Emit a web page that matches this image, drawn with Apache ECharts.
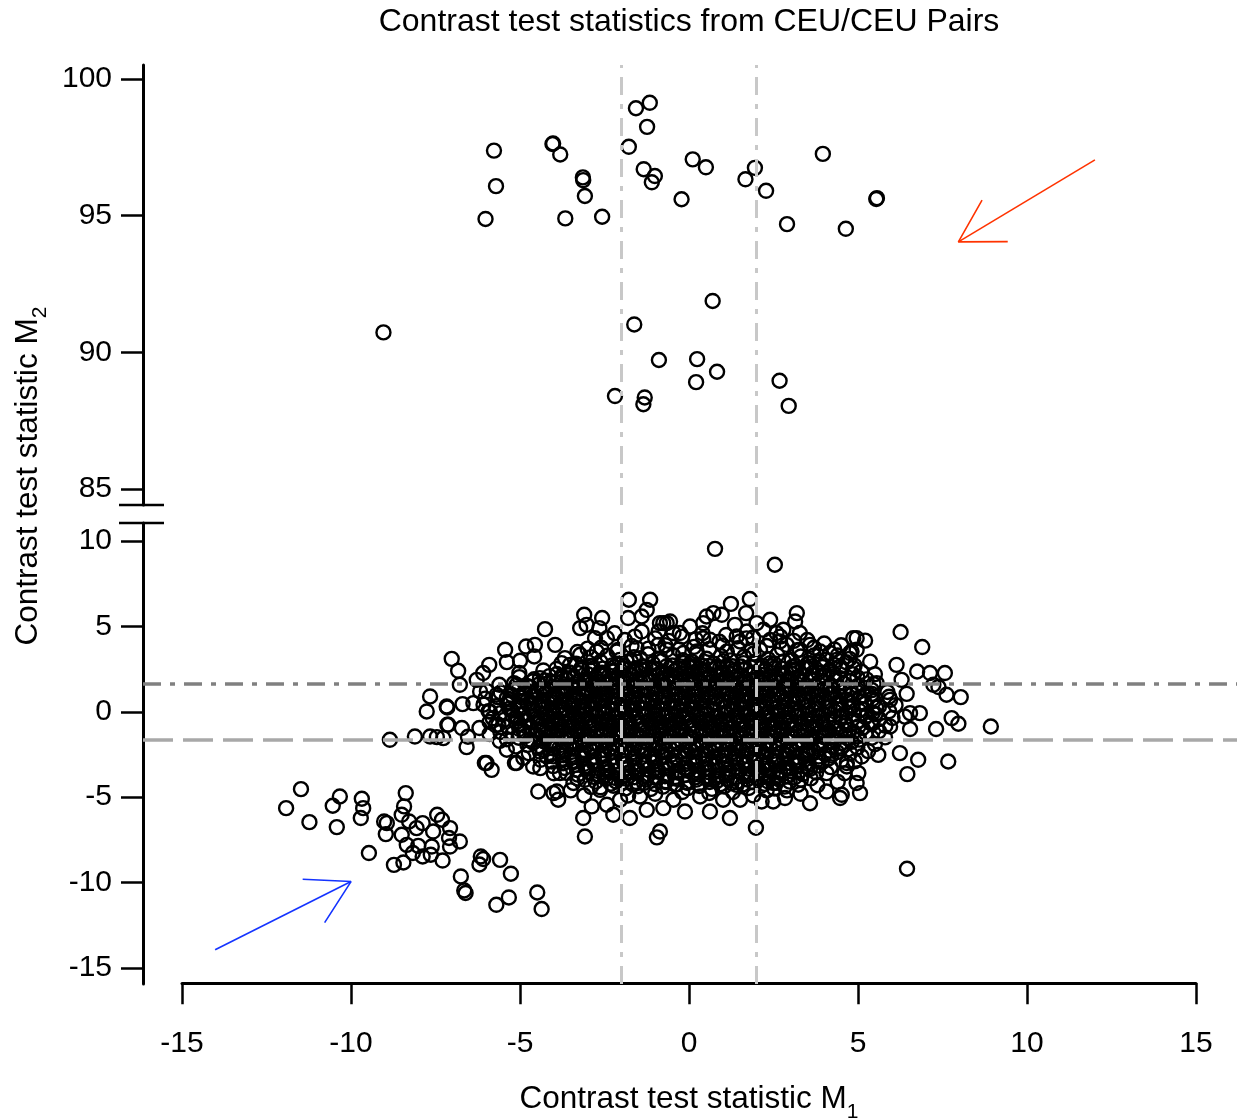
<!DOCTYPE html>
<html><head><meta charset="utf-8">
<script src="https://cdn.jsdelivr.net/npm/echarts@6.0.0/dist/echarts.min.js"></script>
<style>html,body{margin:0;padding:0;background:#fff}#c{width:1242px;height:1120px}</style>
</head><body><div id="c"></div>
<script>
// ---------------- DATA ----------------
const titleText = 'Contrast test statistics from CEU/CEU Pairs';
const xName = ['Contrast test statistic M', '1'];
const yName = ['Contrast test statistic M', '2'];
const upperTicks = [85, 90, 95, 100];
const lowerTicks = [-15, -10, -5, 0, 5, 10];
const xTickStep = 5;
const xRange = [-15, 15];
const refM1 = [-2, 2];          // vertical reference lines
const refM2Upper = 1.645;       // dash-dot horizontal
const refM2Lower = -1.645;      // dashed horizontal

// points with M2 between 85 and 100
const upperPairs = [
 [-1.57,98.93],[-1.16,99.13],[-1.24,98.25],[-1.78,97.52],[3.96,97.26],[0.11,97.06],[0.50,96.77],
 [1.95,96.75],[-1.34,96.70],[-1.01,96.45],[-1.10,96.22],[1.67,96.33],[2.28,95.91],[-0.22,95.60],
 [5.54,95.61],[5.56,95.64],[2.90,94.69],[4.64,94.52],[0.70,91.88],[-1.62,91.02],[-0.89,89.72],[0.24,89.75],
 [0.83,89.29],[0.21,88.91],[2.68,88.96],[-1.31,88.35],[-1.35,88.10],[2.95,88.04],[-2.19,88.40],
 [-5.77,97.38],[-5.71,96.08],[-6.02,94.88],[-4.04,97.62],[-4.02,97.64],[-3.81,97.24],[-3.14,96.40],
 [-3.13,96.30],[-3.08,95.72],[-3.66,94.90],[-2.57,94.96],[-9.04,90.73]
];

// isolated points in the lower panel
const outlierPairs = [
 [0.77,9.54],[2.54,8.61],[6.45,-9.19],[-0.95,-7.35],[-0.86,-7.01],[-3.08,-7.30],[-3.13,-6.22]
];

// lower-left group
const leftGroupPairs = [
 [-11.48,-4.53],[-11.92,-5.64],[-11.23,-6.46],[-10.33,-4.96],[-10.54,-5.50],[-10.42,-6.75],
 [-9.68,-5.09],[-9.64,-5.64],[-9.71,-6.22],[-9.47,-8.27],[-8.38,-4.76],[-8.43,-5.54],[-8.50,-6.03],
 [-9.02,-6.42],[-8.94,-6.52],[-8.97,-7.16],[-8.28,-6.42],[-8.06,-6.81],[-7.88,-6.52],[-8.50,-7.20],
 [-8.35,-7.79],[-8.01,-7.85],[-7.61,-7.89],[-7.57,-7.01],[-7.45,-6.03],[-7.31,-6.32],[-7.07,-6.81],
 [-7.10,-7.39],[-6.78,-7.59],[-7.07,-7.89],[-8.17,-8.27],[-7.88,-8.47],[-7.64,-8.37],[-7.29,-8.71],
 [-8.73,-8.96],[-8.45,-8.82],[-6.16,-8.47],[-6.09,-8.62],[-6.20,-8.94],[-5.59,-8.67],[-5.27,-9.48],
 [-6.75,-9.64],[-6.65,-10.46],[-6.61,-10.61],[-5.33,-10.87],[-5.70,-11.30],[-4.49,-10.58],[-4.36,-11.55]
];

// visible points on the border of the main cluster
const clusterEdgePairs = [
 [-7.02,3.10],[-6.83,2.40],[-6.78,1.58],[-7.15,0.25],[-6.70,0.45],[-7.15,-0.76],[-6.72,-0.95],[-6.28,1.87],
 [-6.09,2.27],[-5.91,2.75],[-6.18,1.19],[-6.38,0.51],[-6.20,-0.95],[-5.44,3.63],[-5.39,2.91],[-5.00,2.99],
 [-5.02,2.27],[-4.82,3.82],[-4.56,3.92],[-4.58,3.24],[-4.26,4.84],[-3.96,3.92],[-4.41,1.97],[-3.67,3.14],
 [-3.77,2.85],[-3.77,2.07],[-3.10,5.68],[-3.03,5.09],[-3.22,4.90],[-2.57,5.49],[-2.65,4.90],[-2.78,4.31],
 [-2.43,4.31],[-2.73,3.53],[-3.22,3.34],[-3.52,2.75],[-1.78,6.56],[-1.80,5.49],[-1.15,6.56],[-1.25,5.97],
 [-1.40,5.58],[-1.40,4.70],[-0.86,5.19],[-0.66,5.19],[-0.91,3.92],[-1.55,3.73],[-2.14,3.53],[-5.10,1.58],
 [-5.39,0.80],[-5.69,1.00],[-5.89,0.02],[-5.64,-0.76],[-5.10,-0.37],[-4.80,0.60],[-4.41,-0.37],[-4.11,0.80],
 [-3.82,0.02],[-3.42,1.00],[-3.22,-0.18],[-2.93,1.58],[-2.63,0.60],[-2.43,-0.57],[-2.24,2.36],[-1.84,2.94],
 [-1.45,3.14],[-1.06,2.56],
 [1.80,6.60],[1.24,6.32],[0.97,5.68],[0.72,5.78],[0.52,5.58],[0.42,5.19],[0.03,4.99],[-0.56,5.29],
 [-0.76,5.19],[-0.27,4.61],[-0.46,4.61],[1.69,5.78],[1.36,5.09],[1.71,4.70],[2.00,5.19],[2.40,5.39],
 [3.19,5.78],[3.14,5.29],[2.79,4.80],[2.59,4.61],[2.20,4.80],[3.28,4.61],[3.58,3.92],[2.89,3.92],
 [2.69,4.12],[3.88,3.53],[4.17,3.44],[4.86,4.31],[4.96,3.63],[4.76,3.44],[1.51,4.12],[1.41,4.41],
 [0.42,4.31],[0.62,4.22],[1.12,3.53],[0.23,3.53],[-0.17,3.44],[-0.66,3.63],[2.10,3.63],[3.28,3.63],
 [2.40,2.85],[3.58,2.85],[4.47,2.65],[4.86,2.56],[3.09,2.46],[1.12,2.65],[0.13,2.65],
 [6.26,4.67],[6.90,3.79],[4.96,4.31],[5.21,4.17],[4.81,3.53],[5.36,2.94],[6.14,2.75],[6.75,2.36],
 [7.13,2.27],[7.57,2.27],[7.23,1.58],[7.38,1.45],[7.62,1.00],[8.04,0.86],[6.44,1.05],[6.29,1.87],
 [6.54,-0.08],[6.83,-0.08],[6.39,-0.28],[7.77,-0.37],[7.97,-0.70],[7.31,-1.01],[6.54,-1.01],[8.93,-0.86],
 [6.24,-2.42],[6.78,-2.81],[7.67,-2.91],[6.46,-3.65],[5.60,-2.52],[5.11,-2.62],[5.01,-3.59],[4.67,-3.20],
 [5.06,-4.76],[4.52,-4.86],[5.95,-0.86],[5.95,0.70],[5.55,1.68],[4.37,3.04],[4.27,2.07],
 [-6.58,-2.07],[-5.99,-3.00],[-5.84,-3.40],[-5.10,-3.00],[-4.61,-3.20],[-4.46,-4.67],[-3.91,-4.67],
 [-3.87,-5.15],[-2.88,-5.54],[-2.43,-5.44],[-2.24,-6.03],[-1.75,-6.22],[-1.25,-5.74],[-0.76,-5.64],
 [-0.12,-5.84],[0.62,-5.84],[1.21,-6.22],[1.98,-6.79],[2.15,-5.25],[2.49,-5.25],[2.84,-5.05],[3.23,-4.27],
 [3.58,-5.35],[4.07,-4.67],[4.47,-5.05],[4.07,-3.59],[4.67,-3.00],[4.96,-4.17],[3.48,-2.42],[2.49,-4.17],
 [1.51,-5.15],[1.01,-5.15],[0.33,-4.96],[-0.46,-5.15],[-1.45,-4.96],[-2.04,-5.15],[-2.63,-4.57],
 [-3.42,-4.17],[-3.82,-3.59],[-4.21,-2.62],[-5.39,-2.22],
 [-7.66,0.90],[-7.76,0.02],[-7.17,0.31],[-8.85,-1.64],[-8.11,-1.45],[-7.66,-1.45],[-7.46,-1.48],
 [-7.27,-1.54],[-7.12,-0.76],[-6.04,-3.00],[-5.15,-3.00],[-4.01,-4.76],[-6.54,-1.46],
 [3.7,3.3],[4.05,3.05],[4.4,3.3],[4.75,3.1],[3.95,2.62],[4.3,2.75],[4.65,2.9],[4.9,2.7],[5.1,2.35],
 [4.85,2.2],[5.25,1.9],[5.5,2.2],[-3.3,3.5],[-2.9,3.2],[-3.0,3.7],
 [-2.2,4.6],[-1.6,4.4],[-0.9,4.7],[-0.2,4.4],[0.4,4.6],[1.1,4.5],[1.9,4.35],[2.7,4.4],[3.5,4.2],[4.0,4.0],[4.5,3.9],
 [-3.5,-4.6],[-3.1,-4.9],[-2.9,-4.4],[-1.8,-4.9],[-1.0,-4.8],[-0.2,-4.7],[0.6,-4.75],[1.3,-4.7],[1.9,-4.9],
 [2.3,-4.6],[2.9,-4.6],[3.3,-4.8],[3.8,-4.3],[3.6,-3.9],[4.4,-4.1],[-3.3,-3.9],[-4.0,-3.6],[-4.4,-3.3],
 [-4.9,-2.7],[4.6,-3.6],[4.9,-2.9],[5.3,-2.3],[5.5,-1.9],[5.8,-1.5],[-5.6,-1.7],[-5.9,-1.3],[-5.9,-0.6]
];

// dense core of the main cluster, first layer (estimated, overlapping marks)
const clusterCorePairs = [
 [-2.6,3.75],[-2.1,3.62],[-1.7,3.85],[-1.2,3.7],[-0.7,3.9],[-0.3,3.65],[0.15,3.8],[0.6,3.68],[1.0,3.88],[1.45,3.72],[1.85,3.6],[2.3,3.85],[2.75,3.7],[3.2,3.6],[3.7,3.75],[4.3,3.65],
 [-1.9,4.2],[-1.0,4.3],[-0.6,4.15],[0.2,4.25],[0.9,4.1],[1.7,4.3],[2.4,4.2],[3.1,4.15],
 [-2.42,3.28],[-2.05,3.04],[-1.63,3.19],[-1.21,3.37],[-0.88,3.08],[-0.47,3.31],[-0.18,3.02],[0.23,3.36],[0.52,3.11],[0.94,3.27],[1.22,3.01],[1.63,3.22],[1.91,3.41],[2.34,3.09],[2.61,3.33],[3.04,3.02],[3.31,3.24],
 [-3.34,2.81],[-2.93,2.68],[-2.62,2.93],[-2.27,2.72],[-1.98,2.84],[-1.72,2.95],[-1.38,2.66],[-1.07,2.83],[-0.81,2.97],[-0.49,2.71],[-0.17,2.86],[0.08,2.94],[0.41,2.69],[0.73,2.82],[1.02,2.96],[1.29,2.67],[1.61,2.85],[1.93,2.92],[2.18,2.70],[2.52,2.83],[2.81,2.95],[3.14,2.68],[3.52,2.84],[3.87,2.93],
 [-4.31,2.42],[-3.92,2.51],[-3.54,2.31],[-3.17,2.44],[-2.84,2.53],[-2.57,2.29],[-2.23,2.41],[-1.96,2.55],[-1.62,2.33],[-1.37,2.46],[-1.04,2.52],[-0.76,2.28],[-0.43,2.39],[-0.14,2.54],[0.17,2.32],[0.46,2.43],[0.78,2.56],[1.03,2.27],[1.36,2.41],[1.67,2.52],[1.94,2.31],[2.27,2.44],[2.53,2.55],[2.88,2.30],[3.16,2.42],[3.47,2.53],[3.83,2.29],[4.16,2.45],[4.52,2.51],
 [-5.02,2.03],[-4.58,1.91],[-4.13,2.09],[-3.76,1.94],[-3.41,2.07],[-3.08,1.88],[-2.76,2.02],[-2.49,2.13],[-2.16,1.92],[-1.88,2.06],[-1.57,1.87],[-1.29,2.01],[-0.98,2.12],[-0.67,1.93],[-0.41,2.05],[-0.09,1.89],[0.18,2.08],[0.49,1.95],[0.81,2.11],[1.07,1.86],[1.39,2.03],[1.68,1.91],[2.02,2.09],[2.27,1.94],[2.58,2.06],[2.91,1.88],[3.23,2.04],[3.58,1.92],[4.02,2.08],[4.47,1.96],[4.98,2.02],
 [-5.61,1.58],[-5.18,1.67],[-4.79,1.52],[-4.42,1.63],[-4.04,1.71],[-3.72,1.49],[-3.39,1.62],[-3.11,1.74],[-2.79,1.55],[-2.52,1.66],[-2.21,1.51],[-1.93,1.69],[-1.61,1.57],[-1.33,1.72],[-1.02,1.48],[-0.72,1.61],[-0.44,1.73],[-0.13,1.54],[0.16,1.67],[0.47,1.50],[0.76,1.64],[1.08,1.75],[1.37,1.53],[1.66,1.68],[1.97,1.49],[2.26,1.62],[2.57,1.74],[2.86,1.56],[3.17,1.66],[3.48,1.51],[3.82,1.69],[4.19,1.57],[4.58,1.65],[4.99,1.52],[5.46,1.63],
 [-5.98,1.21],[-5.57,1.13],[-5.21,1.27],[-4.84,1.08],[-4.51,1.22],[-4.19,1.31],[-3.88,1.12],[-3.58,1.25],[-3.27,1.06],[-2.98,1.19],[-2.68,1.33],[-2.41,1.11],[-2.12,1.24],[-1.81,1.07],[-1.52,1.21],[-1.22,1.34],[-0.93,1.09],[-0.61,1.23],[-0.32,1.05],[-0.03,1.18],[0.28,1.32],[0.57,1.10],[0.88,1.26],[1.17,1.04],[1.48,1.19],[1.79,1.31],[2.08,1.13],[2.39,1.24],[2.68,1.06],[2.99,1.22],[3.31,1.35],[3.62,1.11],[3.93,1.26],[4.24,1.08],[4.61,1.21],[4.98,1.14],[5.41,1.27],[5.87,1.16],
 [-6.03,0.77],[-5.66,0.86],[-5.29,0.71],[-4.95,0.84],[-4.63,0.92],[-4.32,0.69],[-4.01,0.81],[-3.73,0.94],[-3.42,0.73],[-3.13,0.87],[-2.84,0.68],[-2.55,0.82],[-2.26,0.95],[-1.97,0.72],[-1.68,0.85],[-1.38,0.67],[-1.09,0.83],[-0.78,0.93],[-0.49,0.71],[-0.21,0.84],[0.09,0.66],[0.38,0.81],[0.67,0.94],[0.96,0.73],[1.27,0.86],[1.56,0.69],[1.86,0.82],[2.14,0.95],[2.45,0.72],[2.76,0.85],[3.05,0.68],[3.37,0.83],[3.68,0.91],[3.99,0.74],[4.33,0.87],[4.67,0.71],[5.04,0.84],[5.43,0.76],[5.92,0.88],
 [-6.08,0.42],[-5.72,0.33],[-5.38,0.47],[-5.06,0.29],[-4.77,0.44],[-4.47,0.36],[-4.16,0.51],[-3.87,0.31],[-3.58,0.45],[-3.28,0.27],[-2.99,0.41],[-2.71,0.53],[-2.41,0.32],[-2.12,0.46],[-1.83,0.28],[-1.53,0.43],[-1.24,0.52],[-0.94,0.34],[-0.64,0.47],[-0.36,0.26],[-0.06,0.41],[0.23,0.54],[0.52,0.33],[0.83,0.46],[1.12,0.29],[1.41,0.44],[1.71,0.55],[2.01,0.31],[2.29,0.45],[2.61,0.27],[2.91,0.42],[3.22,0.53],[3.52,0.35],[3.83,0.48],[4.16,0.28],[4.49,0.43],[4.84,0.34],[5.21,0.47],[5.62,0.31],[6.11,0.39],
 [-5.93,0.03],[-5.58,-0.08],[-5.24,0.07],[-4.91,-0.11],[-4.61,0.04],[-4.31,0.13],[-4.02,-0.06],[-3.72,0.09],[-3.43,-0.13],[-3.14,0.02],[-2.85,0.14],[-2.56,-0.07],[-2.27,0.06],[-1.98,-0.12],[-1.69,0.03],[-1.39,0.15],[-1.09,-0.05],[-0.81,0.08],[-0.51,-0.14],[-0.22,0.01],[0.07,0.12],[0.37,-0.09],[0.66,0.05],[0.96,-0.13],[1.26,0.04],[1.55,0.14],[1.84,-0.06],[2.14,0.07],[2.44,-0.11],[2.73,0.02],[3.04,0.13],[3.35,-0.08],[3.66,0.06],[3.98,-0.12],[4.31,0.03],[4.66,-0.05],[5.03,0.08],[5.44,-0.07],[5.92,0.04],
 [-5.81,-0.38],[-5.47,-0.47],[-5.13,-0.33],[-4.81,-0.51],[-4.49,-0.36],[-4.18,-0.27],[-3.88,-0.46],[-3.59,-0.31],[-3.29,-0.53],[-2.99,-0.38],[-2.71,-0.26],[-2.42,-0.48],[-2.13,-0.34],[-1.84,-0.52],[-1.54,-0.37],[-1.26,-0.25],[-0.96,-0.45],[-0.67,-0.32],[-0.37,-0.54],[-0.08,-0.39],[0.22,-0.27],[0.51,-0.49],[0.81,-0.35],[1.11,-0.53],[1.41,-0.36],[1.69,-0.26],[1.99,-0.47],[2.29,-0.33],[2.59,-0.51],[2.88,-0.38],[3.19,-0.28],[3.51,-0.46],[3.82,-0.31],[4.14,-0.52],[4.48,-0.37],[4.83,-0.44],[5.22,-0.31],[5.63,-0.43],[6.02,-0.36],
 [-5.72,-0.79],[-5.36,-0.88],[-5.02,-0.73],[-4.68,-0.91],[-4.36,-0.76],[-4.04,-0.67],[-3.74,-0.86],[-3.44,-0.71],[-3.14,-0.93],[-2.86,-0.78],[-2.57,-0.66],[-2.27,-0.87],[-1.98,-0.74],[-1.69,-0.92],[-1.39,-0.77],[-1.11,-0.65],[-0.81,-0.85],[-0.52,-0.72],[-0.23,-0.94],[0.07,-0.79],[0.36,-0.67],[0.66,-0.88],[0.96,-0.73],[1.26,-0.91],[1.55,-0.76],[1.84,-0.66],[2.14,-0.86],[2.44,-0.72],[2.74,-0.93],[3.04,-0.77],[3.34,-0.68],[3.66,-0.87],[3.98,-0.73],[4.31,-0.91],[4.66,-0.78],[5.02,-0.84],[5.41,-0.71],[5.81,-0.82],
 [-5.58,-1.18],[-5.22,-1.27],[-4.89,-1.12],[-4.56,-1.31],[-4.24,-1.16],[-3.93,-1.07],[-3.62,-1.26],[-3.32,-1.11],[-3.02,-1.33],[-2.73,-1.18],[-2.43,-1.06],[-2.14,-1.28],[-1.84,-1.13],[-1.55,-1.32],[-1.26,-1.17],[-0.96,-1.05],[-0.67,-1.25],[-0.37,-1.12],[-0.08,-1.34],[0.21,-1.19],[0.51,-1.07],[0.81,-1.29],[1.11,-1.14],[1.41,-1.31],[1.71,-1.16],[2.01,-1.06],[2.31,-1.27],[2.61,-1.13],[2.91,-1.33],[3.21,-1.17],[3.52,-1.08],[3.83,-1.26],[4.15,-1.12],[4.49,-1.29],[4.86,-1.17],[5.23,-1.24],[5.62,-1.13],
 [-5.39,-1.61],[-5.04,-1.52],[-4.71,-1.68],[-4.39,-1.55],[-4.08,-1.72],[-3.78,-1.58],[-3.48,-1.49],[-3.18,-1.66],[-2.89,-1.53],[-2.59,-1.74],[-2.29,-1.59],[-2.01,-1.47],[-1.71,-1.67],[-1.41,-1.54],[-1.12,-1.73],[-0.82,-1.57],[-0.53,-1.46],[-0.24,-1.68],[0.06,-1.55],[0.36,-1.74],[0.66,-1.59],[0.95,-1.48],[1.25,-1.69],[1.55,-1.53],[1.85,-1.72],[2.15,-1.58],[2.45,-1.47],[2.75,-1.66],[3.05,-1.54],[3.36,-1.73],[3.67,-1.57],[3.99,-1.49],[4.32,-1.67],[4.68,-1.55],[5.04,-1.63],[5.41,-1.52],
 [-5.12,-2.03],[-4.78,-1.94],[-4.46,-2.11],[-4.14,-1.96],[-3.84,-2.13],[-3.54,-1.98],[-3.24,-1.89],[-2.95,-2.08],[-2.66,-1.95],[-2.36,-2.14],[-2.07,-1.99],[-1.77,-1.88],[-1.48,-2.09],[-1.18,-1.93],[-0.89,-2.12],[-0.59,-1.97],[-0.31,-1.87],[-0.01,-2.07],[0.29,-1.94],[0.58,-2.13],[0.88,-1.98],[1.18,-1.89],[1.48,-2.08],[1.78,-1.95],[2.08,-2.14],[2.38,-1.99],[2.67,-1.88],[2.97,-2.06],[3.28,-1.93],[3.59,-2.12],[3.91,-1.97],[4.24,-2.05],[4.61,-1.92],[4.98,-2.09],
 [-4.74,-2.42],[-4.41,-2.33],[-4.09,-2.49],[-3.77,-2.36],[-3.47,-2.53],[-3.17,-2.38],[-2.88,-2.28],[-2.58,-2.47],[-2.29,-2.34],[-1.99,-2.52],[-1.69,-2.37],[-1.41,-2.27],[-1.11,-2.48],[-0.82,-2.33],[-0.52,-2.51],[-0.23,-2.36],[0.07,-2.26],[0.37,-2.46],[0.66,-2.32],[0.96,-2.53],[1.26,-2.38],[1.56,-2.28],[1.86,-2.47],[2.16,-2.34],[2.46,-2.52],[2.76,-2.37],[3.06,-2.27],[3.37,-2.45],[3.69,-2.31],[4.02,-2.48],[4.38,-2.36],[4.77,-2.43],
 [-4.39,-2.81],[-4.06,-2.91],[-3.74,-2.74],[-3.43,-2.88],[-3.13,-2.72],[-2.84,-2.93],[-2.54,-2.77],[-2.24,-2.67],[-1.95,-2.87],[-1.65,-2.73],[-1.36,-2.92],[-1.06,-2.76],[-0.77,-2.66],[-0.47,-2.86],[-0.18,-2.72],[0.12,-2.91],[0.41,-2.77],[0.71,-2.67],[1.01,-2.88],[1.31,-2.73],[1.61,-2.92],[1.91,-2.76],[2.21,-2.66],[2.51,-2.86],[2.81,-2.71],[3.12,-2.91],[3.44,-2.77],[3.77,-2.86],[4.13,-2.73],[4.51,-2.84],
 [-4.02,-3.18],[-3.68,-3.29],[-3.37,-3.12],[-3.06,-3.27],[-2.77,-3.11],[-2.47,-3.31],[-2.18,-3.16],[-1.88,-3.06],[-1.59,-3.26],[-1.29,-3.12],[-0.99,-3.32],[-0.71,-3.17],[-0.41,-3.07],[-0.12,-3.27],[0.18,-3.13],[0.47,-3.31],[0.77,-3.16],[1.07,-3.06],[1.37,-3.26],[1.67,-3.11],[1.97,-3.31],[2.27,-3.16],[2.57,-3.08],[2.88,-3.27],[3.19,-3.13],[3.51,-3.29],[3.84,-3.15],[4.19,-3.24],
 [-3.62,-3.58],[-3.29,-3.68],[-2.98,-3.52],[-2.68,-3.67],[-2.38,-3.51],[-2.09,-3.71],[-1.79,-3.56],[-1.49,-3.46],[-1.19,-3.66],[-0.91,-3.52],[-0.61,-3.72],[-0.32,-3.57],[-0.02,-3.47],[0.28,-3.67],[0.57,-3.53],[0.87,-3.71],[1.17,-3.56],[1.47,-3.47],[1.77,-3.66],[2.07,-3.52],[2.38,-3.71],[2.69,-3.57],[3.01,-3.48],[3.36,-3.65],[3.76,-3.55],
 [-3.08,-3.98],[-2.76,-4.09],[-2.46,-3.93],[-2.16,-4.08],[-1.86,-3.91],[-1.57,-4.11],[-1.27,-3.96],[-0.97,-3.87],[-0.68,-4.07],[-0.38,-3.92],[-0.08,-4.12],[0.22,-3.97],[0.52,-3.88],[0.82,-4.06],[1.12,-3.93],[1.42,-4.11],[1.72,-3.96],[2.02,-3.88],[2.33,-4.07],[2.65,-3.94],[2.98,-4.09],[3.31,-3.97],
 [-2.62,-4.42],[-2.24,-4.33],[-1.88,-4.49],[-1.51,-4.36],[-1.13,-4.52],[-0.77,-4.38],[-0.41,-4.27],[-0.04,-4.47],[0.31,-4.34],[0.68,-4.51],[1.04,-4.37],[1.41,-4.28],[1.77,-4.46],[2.14,-4.33],[2.52,-4.49],[2.83,-4.38]
];

// dense core, second layer between the rows of the first
const clusterCore2Pairs = [
 [-3.18,2.58],[-2.86,2.66],[-2.55,2.53],[-2.21,2.62],[-1.92,2.69],[-1.58,2.55],[-1.29,2.64],[-0.95,2.51],[-0.66,2.67],[-0.33,2.57],[-0.02,2.63],[0.31,2.54],[0.59,2.68],[0.92,2.59],[1.21,2.52],[1.53,2.65],[1.82,2.61],[2.14,2.56],[2.43,2.67],[2.74,2.53],[3.05,2.62],[3.38,2.58],[3.62,2.66],
 [-3.91,2.21],[-3.58,2.14],[-3.29,2.27],[-2.98,2.18],[-2.67,2.25],[-2.36,2.12],[-2.07,2.23],[-1.76,2.16],[-1.47,2.28],[-1.16,2.13],[-0.87,2.22],[-0.56,2.17],[-0.26,2.26],[0.03,2.11],[0.34,2.24],[0.63,2.15],[0.94,2.27],[1.23,2.19],[1.54,2.12],[1.83,2.25],[2.14,2.16],[2.43,2.28],[2.74,2.14],[3.03,2.23],[3.34,2.17],[3.66,2.26],[3.98,2.13],[4.29,2.22],
 [-4.62,1.78],[-4.27,1.84],[-3.94,1.73],[-3.61,1.86],[-3.29,1.76],[-2.96,1.82],[-2.65,1.71],[-2.34,1.87],[-2.03,1.77],[-1.74,1.83],[-1.43,1.72],[-1.13,1.85],[-0.82,1.79],[-0.53,1.74],[-0.24,1.86],[0.04,1.76],[0.33,1.82],[0.64,1.71],[0.94,1.84],[1.22,1.78],[1.53,1.73],[1.83,1.87],[2.12,1.75],[2.42,1.81],[2.72,1.72],[3.03,1.85],[3.34,1.77],[3.67,1.83],[3.98,1.74],[4.31,1.86],[4.76,1.79],
 [-5.03,1.38],[-4.68,1.44],[-4.36,1.33],[-4.05,1.46],[-3.73,1.36],[-3.43,1.42],[-3.12,1.31],[-2.83,1.47],[-2.53,1.37],[-2.24,1.43],[-1.93,1.32],[-1.64,1.45],[-1.34,1.39],[-1.04,1.34],[-0.75,1.46],[-0.45,1.36],[-0.16,1.42],[0.14,1.31],[0.43,1.44],[0.73,1.38],[1.03,1.33],[1.32,1.47],[1.62,1.35],[1.92,1.41],[2.22,1.32],[2.53,1.45],[2.83,1.37],[3.14,1.43],[3.45,1.34],[3.77,1.46],[4.09,1.36],[4.43,1.42],[4.78,1.33],[5.17,1.41],
 [-5.24,0.98],[-4.89,1.04],[-4.57,0.93],[-4.26,1.06],[-3.95,0.96],[-3.65,1.02],[-3.34,0.91],[-3.05,1.07],[-2.76,0.97],[-2.46,1.03],[-2.17,0.92],[-1.88,1.05],[-1.57,0.99],[-1.28,0.94],[-0.98,1.06],[-0.69,0.96],[-0.39,1.02],[-0.09,0.91],[0.21,1.04],[0.51,0.98],[0.81,0.93],[1.11,1.07],[1.41,0.95],[1.71,1.01],[2.01,0.92],[2.31,1.05],[2.61,0.97],[2.91,1.03],[3.22,0.94],[3.53,1.06],[3.84,0.96],[4.16,1.02],[4.48,0.93],[4.82,1.01],[5.18,0.95],[5.41,1.05],
 [-5.33,0.58],[-4.99,0.64],[-4.67,0.53],[-4.36,0.66],[-4.06,0.56],[-3.76,0.62],[-3.46,0.51],[-3.16,0.67],[-2.87,0.57],[-2.57,0.63],[-2.27,0.52],[-1.97,0.65],[-1.67,0.59],[-1.38,0.54],[-1.08,0.66],[-0.79,0.56],[-0.49,0.62],[-0.19,0.51],[0.11,0.64],[0.41,0.58],[0.71,0.53],[1.01,0.67],[1.31,0.55],[1.61,0.61],[1.91,0.52],[2.21,0.65],[2.51,0.57],[2.81,0.63],[3.12,0.54],[3.43,0.66],[3.74,0.56],[4.06,0.62],[4.39,0.53],[4.73,0.61],[5.08,0.55],[5.47,0.63],
 [-5.31,0.18],[-4.97,0.24],[-4.65,0.13],[-4.34,0.26],[-4.04,0.16],[-3.74,0.22],[-3.44,0.11],[-3.14,0.27],[-2.84,0.17],[-2.55,0.23],[-2.25,0.12],[-1.95,0.25],[-1.65,0.19],[-1.36,0.14],[-1.06,0.26],[-0.76,0.16],[-0.46,0.22],[-0.16,0.11],[0.14,0.24],[0.44,0.18],[0.74,0.13],[1.04,0.27],[1.34,0.15],[1.64,0.21],[1.94,0.12],[2.24,0.25],[2.54,0.17],[2.84,0.23],[3.15,0.14],[3.46,0.26],[3.77,0.16],[4.09,0.22],[4.42,0.13],[4.76,0.21],[5.12,0.15],[5.54,0.23],
 [-5.22,-0.21],[-4.88,-0.14],[-4.57,-0.26],[-4.26,-0.16],[-3.96,-0.23],[-3.66,-0.12],[-3.36,-0.25],[-3.06,-0.17],[-2.77,-0.22],[-2.47,-0.11],[-2.17,-0.24],[-1.87,-0.18],[-1.57,-0.27],[-1.28,-0.13],[-0.98,-0.22],[-0.68,-0.16],[-0.38,-0.26],[-0.08,-0.14],[0.22,-0.23],[0.52,-0.17],[0.82,-0.25],[1.12,-0.12],[1.42,-0.21],[1.72,-0.15],[2.02,-0.26],[2.32,-0.13],[2.62,-0.22],[2.92,-0.18],[3.23,-0.27],[3.54,-0.14],[3.86,-0.23],[4.19,-0.16],[4.53,-0.25],[4.88,-0.15],[5.26,-0.22],[5.52,-0.13],
 [-5.11,-0.61],[-4.78,-0.54],[-4.47,-0.66],[-4.16,-0.56],[-3.86,-0.63],[-3.56,-0.52],[-3.26,-0.65],[-2.96,-0.57],[-2.66,-0.62],[-2.37,-0.51],[-2.07,-0.64],[-1.77,-0.58],[-1.47,-0.67],[-1.18,-0.53],[-0.88,-0.62],[-0.58,-0.56],[-0.28,-0.66],[0.02,-0.54],[0.32,-0.63],[0.62,-0.57],[0.92,-0.65],[1.22,-0.52],[1.52,-0.61],[1.82,-0.55],[2.12,-0.66],[2.42,-0.53],[2.72,-0.62],[3.02,-0.58],[3.33,-0.67],[3.64,-0.54],[3.96,-0.63],[4.29,-0.56],[4.63,-0.65],[4.99,-0.55],[5.38,-0.62],
 [-5.02,-1.01],[-4.69,-0.94],[-4.38,-1.06],[-4.07,-0.96],[-3.77,-1.03],[-3.47,-0.92],[-3.17,-1.05],[-2.88,-0.97],[-2.58,-1.02],[-2.28,-0.91],[-1.98,-1.04],[-1.69,-0.98],[-1.39,-1.07],[-1.09,-0.93],[-0.79,-1.02],[-0.49,-0.96],[-0.19,-1.06],[0.11,-0.94],[0.41,-1.03],[0.71,-0.97],[1.01,-1.05],[1.31,-0.92],[1.61,-1.01],[1.91,-0.95],[2.21,-1.06],[2.51,-0.93],[2.81,-1.02],[3.11,-0.98],[3.42,-1.07],[3.73,-0.94],[4.06,-1.03],[4.39,-0.96],[4.74,-1.05],[5.13,-0.95],
 [-4.83,-1.41],[-4.51,-1.34],[-4.19,-1.46],[-3.89,-1.36],[-3.59,-1.43],[-3.29,-1.32],[-2.99,-1.45],[-2.69,-1.37],[-2.39,-1.42],[-2.09,-1.31],[-1.79,-1.44],[-1.49,-1.38],[-1.19,-1.47],[-0.89,-1.33],[-0.59,-1.42],[-0.29,-1.36],[0.01,-1.46],[0.31,-1.34],[0.61,-1.43],[0.91,-1.37],[1.21,-1.45],[1.51,-1.32],[1.81,-1.41],[2.11,-1.35],[2.41,-1.46],[2.71,-1.33],[3.01,-1.42],[3.31,-1.38],[3.62,-1.47],[3.94,-1.34],[4.27,-1.43],[4.62,-1.36],[4.98,-1.44],
 [-4.61,-1.81],[-4.29,-1.74],[-3.98,-1.86],[-3.68,-1.76],[-3.38,-1.83],[-3.08,-1.72],[-2.78,-1.85],[-2.48,-1.77],[-2.18,-1.82],[-1.88,-1.71],[-1.58,-1.84],[-1.28,-1.78],[-0.98,-1.87],[-0.68,-1.73],[-0.38,-1.82],[-0.08,-1.76],[0.22,-1.86],[0.52,-1.74],[0.82,-1.83],[1.12,-1.77],[1.42,-1.85],[1.72,-1.72],[2.02,-1.81],[2.32,-1.75],[2.62,-1.86],[2.92,-1.73],[3.22,-1.82],[3.53,-1.78],[3.85,-1.87],[4.18,-1.74],[4.52,-1.83],[4.81,-1.76],
 [-4.32,-2.21],[-4.01,-2.14],[-3.71,-2.26],[-3.41,-2.16],[-3.11,-2.23],[-2.81,-2.12],[-2.51,-2.25],[-2.21,-2.17],[-1.91,-2.22],[-1.61,-2.11],[-1.31,-2.24],[-1.01,-2.18],[-0.71,-2.27],[-0.41,-2.13],[-0.11,-2.22],[0.19,-2.16],[0.49,-2.26],[0.79,-2.14],[1.09,-2.23],[1.39,-2.17],[1.69,-2.25],[1.99,-2.12],[2.29,-2.21],[2.59,-2.15],[2.89,-2.26],[3.19,-2.13],[3.51,-2.22],[3.83,-2.18],[4.16,-2.27],[4.49,-2.15],
 [-4.01,-2.61],[-3.71,-2.54],[-3.41,-2.66],[-3.11,-2.56],[-2.81,-2.63],[-2.51,-2.52],[-2.21,-2.65],[-1.91,-2.57],[-1.61,-2.62],[-1.31,-2.51],[-1.01,-2.64],[-0.71,-2.58],[-0.41,-2.67],[-0.11,-2.53],[0.19,-2.62],[0.49,-2.56],[0.79,-2.66],[1.09,-2.54],[1.39,-2.63],[1.69,-2.57],[1.99,-2.65],[2.29,-2.52],[2.59,-2.61],[2.89,-2.55],[3.19,-2.66],[3.51,-2.53],[3.84,-2.62],[4.21,-2.56],
 [-3.72,-3.01],[-3.41,-2.94],[-3.11,-3.06],[-2.81,-2.96],[-2.51,-3.03],[-2.21,-2.92],[-1.91,-3.05],[-1.61,-2.97],[-1.31,-3.02],[-1.01,-2.91],[-0.71,-3.04],[-0.41,-2.98],[-0.11,-3.07],[0.19,-2.93],[0.49,-3.02],[0.79,-2.96],[1.09,-3.06],[1.39,-2.94],[1.69,-3.03],[1.99,-2.97],[2.29,-3.05],[2.59,-2.92],[2.89,-3.01],[3.21,-2.95],[3.54,-3.06],[3.93,-2.96],
 [-3.31,-3.41],[-3.01,-3.34],[-2.71,-3.46],[-2.41,-3.36],[-2.11,-3.43],[-1.81,-3.32],[-1.51,-3.45],[-1.21,-3.37],[-0.91,-3.42],[-0.61,-3.31],[-0.31,-3.44],[-0.01,-3.38],[0.29,-3.47],[0.59,-3.33],[0.89,-3.42],[1.19,-3.36],[1.49,-3.46],[1.79,-3.34],[2.09,-3.43],[2.39,-3.37],[2.69,-3.45],[2.99,-3.32],[3.31,-3.41],[3.58,-3.35],
 [-2.82,-3.81],[-2.51,-3.74],[-2.21,-3.86],[-1.91,-3.76],[-1.61,-3.83],[-1.31,-3.72],[-1.01,-3.85],[-0.71,-3.77],[-0.41,-3.82],[-0.11,-3.71],[0.19,-3.84],[0.49,-3.78],[0.79,-3.87],[1.09,-3.73],[1.39,-3.82],[1.69,-3.76],[1.99,-3.86],[2.29,-3.74],[2.59,-3.83],[2.88,-3.77],[3.12,-3.85],
 [-2.31,-4.21],[-1.98,-4.14],[-1.66,-4.26],[-1.33,-4.16],[-1.01,-4.23],[-0.69,-4.12],[-0.36,-4.25],[-0.04,-4.17],[0.28,-4.22],[0.61,-4.11],[0.93,-4.24],[1.26,-4.18],[1.58,-4.27],[1.91,-4.13],[2.24,-4.22],[2.58,-4.16]
];

// annotation arrows (data units)
const redArrowShaft = [[12.01, 97.04], [7.97, 94.04]];
const redArrowHead  = [[8.67, 95.57], [7.97, 94.04], [9.43, 94.05]];
const blueArrowShaft = [[-14.02, -13.93], [-10.0, -9.94]];
const blueArrowHead  = [[-11.43, -9.80], [-10.0, -9.94], [-10.78, -12.34]];

// ---------------- LAYOUT ----------------
const FONT = '"Liberation Sans", Arial, Helvetica, sans-serif';
const PLOT_LEFT = 143, PLOT_RIGHT_EDGE = 1237;
const TOP_Y0 = 65, TOP_H = 440;
const BOT_Y0 = 523, BOT_H = 461;
const AXIS_L = 182, AXIS_R = 1196;
const X_MIN = -16.154, X_MAX = 16.213;
const UP_MIN = 84.415, UP_MAX = 100.512;
const LO_MIN = -15.937, LO_MAX = 11.054;
const SYM = 14, SYM_W = 2.4;

const chart = echarts.init(document.getElementById('c'), null, {renderer: 'canvas'});

const circleStyle = {color: 'rgba(0,0,0,0)', borderColor: '#000', borderWidth: SYM_W, opacity: 1};
const vLineStyle = {color: '#c8c8c8', width: 3, type: [18, 9, 5, 9]};

function yAxisCfg(grid, min, max, ticks) {
  return {
    gridIndex: grid, type: 'value', min: min, max: max,
    axisLine: {show: true, onZero: false, lineStyle: {color: '#000', width: 3}},
    axisTick: {show: true, length: 22, customValues: ticks, lineStyle: {color: '#000', width: 2.5}},
    axisLabel: {show: true, customValues: ticks, fontSize: 30, fontFamily: FONT, color: '#000', margin: 31},
    splitLine: {show: false}
  };
}

const option = {
  animation: false,
  backgroundColor: '#fff',
  grid: [
    {left: PLOT_LEFT, right: 1242 - PLOT_RIGHT_EDGE, top: TOP_Y0, height: TOP_H},
    {left: PLOT_LEFT, right: 1242 - PLOT_RIGHT_EDGE, top: BOT_Y0, height: BOT_H},
    {left: AXIS_L, right: 1242 - AXIS_R, top: BOT_Y0 + BOT_H - 1, height: 1}
  ],
  xAxis: [
    {gridIndex: 0, type: 'value', min: X_MIN, max: X_MAX, show: false},
    {gridIndex: 1, type: 'value', min: X_MIN, max: X_MAX, show: false},
    {gridIndex: 2, type: 'value', min: xRange[0], max: xRange[1], interval: xTickStep, position: 'bottom',
     axisLine: {show: true, onZero: false, lineStyle: {color: '#000', width: 3}},
     axisTick: {show: true, length: 21, lineStyle: {color: '#000', width: 2.5}},
     axisLabel: {fontSize: 30, fontFamily: FONT, color: '#000', margin: 45},
     splitLine: {show: false},
     name: '{m|' + xName[0] + '}{s|' + xName[1] + '}',
     nameLocation: 'middle', nameGap: 94,
     nameTextStyle: {rich: {
       m: {fontSize: 31.5, fontFamily: FONT, color: '#000'},
       s: {fontSize: 21, fontFamily: FONT, color: '#000', padding: [24, 0, 0, 0]}
     }}
    }
  ],
  yAxis: [
    yAxisCfg(0, UP_MIN, UP_MAX, upperTicks),
    yAxisCfg(1, LO_MIN, LO_MAX, lowerTicks),
    {gridIndex: 2, type: 'value', min: 0, max: 1, show: false}
  ],
  series: [
    {type: 'scatter', xAxisIndex: 0, yAxisIndex: 0, data: upperPairs, symbol: 'circle', symbolSize: SYM, itemStyle: circleStyle, z: 2, silent: true},
    {type: 'scatter', xAxisIndex: 1, yAxisIndex: 1,
     data: clusterCorePairs.concat(clusterCore2Pairs, clusterEdgePairs, leftGroupPairs, outlierPairs),
     symbol: 'circle', symbolSize: SYM, itemStyle: circleStyle, z: 2, silent: true, large: false, progressive: 0},
    {type: 'line', xAxisIndex: 0, yAxisIndex: 0, data: [], z: 5, silent: true,
     markLine: {silent: true, symbol: 'none', label: {show: false}, animation: false, lineStyle: vLineStyle,
       data: refM1.map(v => ({xAxis: v}))}},
    {type: 'line', xAxisIndex: 1, yAxisIndex: 1, data: [], z: 5, silent: true,
     markLine: {silent: true, symbol: 'none', label: {show: false}, animation: false,
       data: refM1.map(v => ({xAxis: v, lineStyle: vLineStyle})).concat([
         {yAxis: refM2Upper, lineStyle: {color: '#808080', width: 3.5, type: [18, 9, 5, 9]}},
         {yAxis: refM2Lower, lineStyle: {color: '#a8a8a8', width: 3.5, type: [30, 10]}}
       ])}},
    {type: 'line', xAxisIndex: 0, yAxisIndex: 0, data: redArrowShaft, showSymbol: false, z: 6, silent: true, lineStyle: {color: '#ff3300', width: 1.6}},
    {type: 'line', xAxisIndex: 0, yAxisIndex: 0, data: redArrowHead, showSymbol: false, z: 6, silent: true, lineStyle: {color: '#ff3300', width: 1.6}},
    {type: 'line', xAxisIndex: 1, yAxisIndex: 1, data: blueArrowShaft, showSymbol: false, z: 6, silent: true, lineStyle: {color: '#1433ff', width: 1.6}},
    {type: 'line', xAxisIndex: 1, yAxisIndex: 1, data: blueArrowHead, showSymbol: false, z: 6, silent: true, lineStyle: {color: '#1433ff', width: 1.6}}
  ],
  graphic: [
    {type: 'text', x: (AXIS_L + AXIS_R) / 2, y: 22, silent: true,
     style: {text: titleText, fontSize: 32, fontFamily: FONT, fill: '#000', align: 'center', verticalAlign: 'middle'}},
    {type: 'text', x: 28, y: 476, rotation: Math.PI / 2, silent: true,
     style: {text: '{m|' + yName[0] + '}{s|' + yName[1] + '}', align: 'center', verticalAlign: 'middle',
       rich: {
         m: {fontSize: 31.5, fontFamily: FONT, fill: '#000'},
         s: {fontSize: 21, fontFamily: FONT, fill: '#000', padding: [24, 0, 0, 0]}
       }}},
    {type: 'line', silent: true, shape: {x1: 119, y1: TOP_Y0 + TOP_H, x2: 164, y2: TOP_Y0 + TOP_H}, style: {stroke: '#000', lineWidth: 2.5}},
    {type: 'line', silent: true, shape: {x1: 119, y1: BOT_Y0, x2: 164, y2: BOT_Y0}, style: {stroke: '#000', lineWidth: 2.5}}
  ]
};
chart.setOption(option);
</script>
</body></html>
